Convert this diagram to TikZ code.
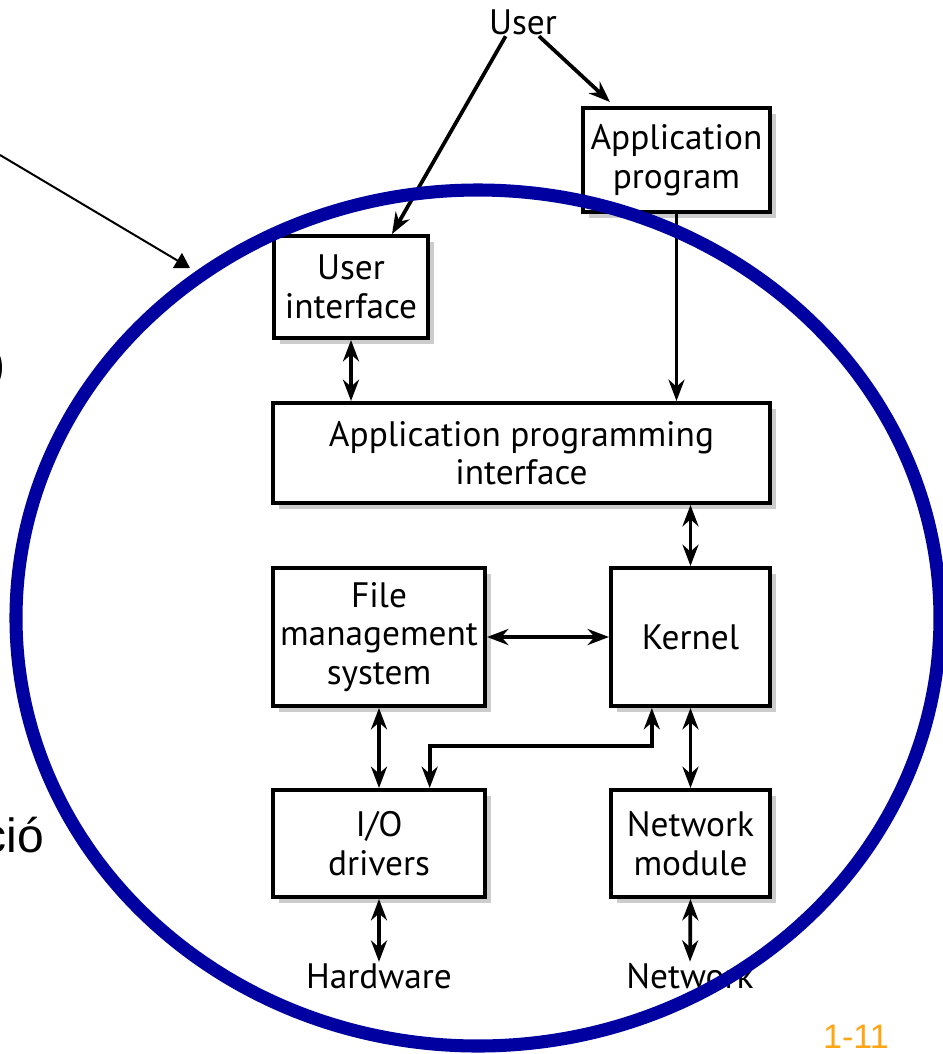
\documentclass[tikz,border=0pt]{standalone}
\usepackage{fontspec}
\setmainfont{PT Sans}
\newfontfamily\arialf{Liberation Sans}
\usetikzlibrary{arrows.meta,shadows,calc}
\definecolor{navyring}{RGB}{0,0,160}
\definecolor{slideorange}{RGB}{255,165,20}
\newcommand\bxfont{\fontsize{26.5}{29}\selectfont}
\begin{document}
\begin{tikzpicture}[x=0.75pt,y=-0.75pt,
  box/.style={draw, line width=3pt, fill=white, inner sep=0pt, align=center, font=\bxfont,
    drop shadow={shadow xshift=4.5pt, shadow yshift=-4.5pt, fill=black!20, opacity=1}},
  dbl/.style={line width=2.8pt, {Stealth[length=16pt,width=12pt]}-{Stealth[length=16pt,width=12pt]}},
  sgl/.style={line width=2.8pt, -{Stealth[length=16pt,width=12pt]}},
  lbl/.style={font=\bxfont, inner sep=1pt},
  side/.style={font=\arialf\fontsize{36}{40}\selectfont, inner sep=0pt}
]
\useasboundingbox (0,0) rectangle (943,1054);

% boxes
\node[box, minimum width=0.75pt*187, minimum height=0.75pt*104] (app) at (676.5,160) {Application\\program};
\node[box, minimum width=0.75pt*154, minimum height=0.75pt*102] (ui) at (351,287) {User\\interface};
\node[box, minimum width=0.75pt*497, minimum height=0.75pt*100] (api) at (521.5,453) {Application programming\\interface};
\node[box, minimum width=0.75pt*212, minimum height=0.75pt*138] (fms) at (379,637) {File\\management\\system};
\node[box, minimum width=0.75pt*159, minimum height=0.75pt*138] (kernel) at (690.5,637) {Kernel};
\node[box, minimum width=0.75pt*212, minimum height=0.75pt*107] (io) at (379,843.5) {I/O\\drivers};
\node[box, minimum width=0.75pt*159, minimum height=0.75pt*107] (net) at (690.5,843.5) {Network\\module};

% labels
\node[lbl] (user) at (523,22) {User};
\node[lbl] (hw) at (379,976) {Hardware};
\node[lbl] (netl) at (690,976) {Network};

% connectors
\draw[sgl] ([xshift=-13pt]user.south) -- ([xshift=30.75pt]ui.north);
\draw[sgl] ([xshift=12pt]user.south) -- ([xshift=21.75pt,yshift=3pt]app.north west);
\draw[sgl] (app.south) -- (app.south |- api.north);
\draw[dbl] (ui.south) -- (ui.south |- api.north);
\draw[dbl] (kernel.north |- api.south) -- (kernel.north);
\draw[dbl] (fms.east) -- (kernel.west);
\draw[dbl] (fms.south) -- (io.north);
\draw[dbl] (kernel.south) -- (net.north);
\draw[dbl] ([xshift=38pt]io.north) -- ++(0,-42) -| ([xshift=-29pt]kernel.south);
\draw[dbl] (io.south) -- (hw.north);
\draw[dbl] (net.south) -- (netl.north);

% pointer arrow at top left
\coordinate (p0) at (0,155);
\coordinate (p1) at (190,268);
\draw[line width=1.5pt, -{Triangle[length=11pt,width=13pt]}] (p0) -- (p1);

% cut-off side texts
\node[side, anchor=base east] (paren) at (5.5,380) {)};
\node[side, anchor=base east] (cio) at (44,852) {ció};

% ring
\draw[navyring, line width=9.8pt] (478,618) ellipse [x radius=346.5pt, y radius=321pt];

% page number
\node[font=\arialf\fontsize{25.5}{28}\selectfont, text=slideorange, anchor=base, inner sep=0pt] (pg) at (856,1048) {1-11};
\end{tikzpicture}
\end{document}
